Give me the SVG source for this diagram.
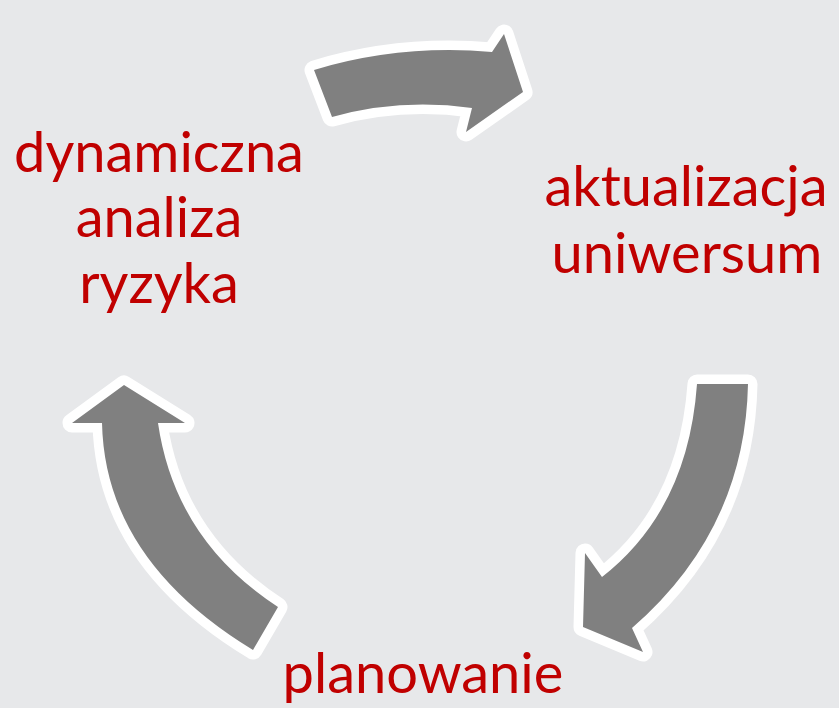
<svg xmlns="http://www.w3.org/2000/svg" width="839" height="708" viewBox="0 0 839 708">
<style>
.arrow{fill:#808080;stroke:#ffffff;stroke-width:19;stroke-linejoin:round;paint-order:stroke}
.lbl{font-family:Lato,"Open Sans","Liberation Sans",sans-serif;font-size:56px;fill:#c00000;text-anchor:middle}
</style>
<rect width="839" height="708" fill="#e7e8ea"/>
<g id="connectors">
<path id="arrow-top" class="arrow" d="M314,70 Q400,44 492,52 L504,34 L523,92 L466,132 L472,108 Q400,98 332,117 Z"/>
<path id="arrow-right" class="arrow" d="M697,384 L748,384 Q745,530 632,628 L643,652 L583,627 L585,553 L602,577 Q688,510 697,384 Z"/>
<path id="arrow-left" class="arrow" d="M124,385 L185,423 L158,423 Q175,540 278,607 L253,650 Q105,560 102,423 L72,423 Z"/>
</g>
<g id="node-dynamiczna">
<text class="lbl" x="159" y="172">dynamiczna</text>
<text class="lbl" x="159" y="237">analiza</text>
<text class="lbl" x="159" y="303">ryzyka</text>
</g>
<g id="node-aktualizacja">
<text class="lbl" x="686" y="206">aktualizacja</text>
<text class="lbl" x="687" y="273">uniwersum</text>
</g>
<g id="node-planowanie">
<text class="lbl" x="423" y="693">planowanie</text>
</g>
</svg>
